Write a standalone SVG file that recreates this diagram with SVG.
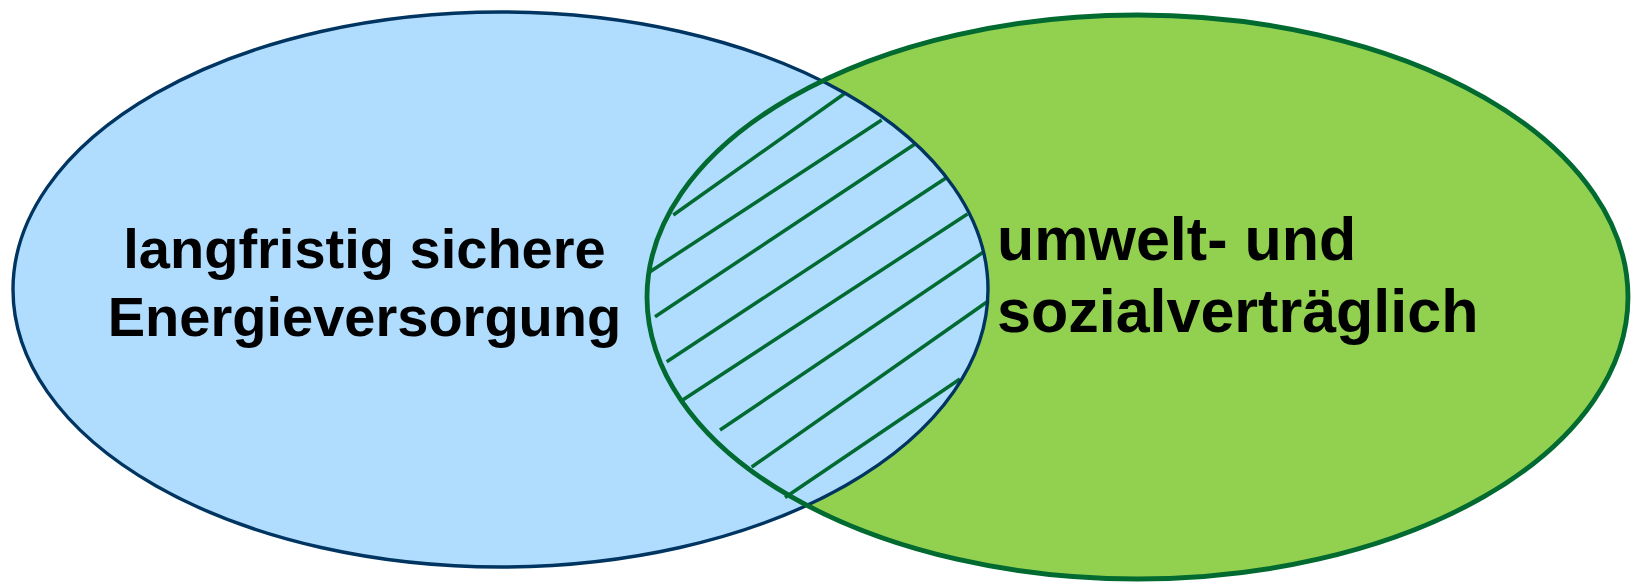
<svg xmlns="http://www.w3.org/2000/svg" width="1632" height="583" viewBox="0 0 1632 583">
<style>
.blue{fill:#b0dcfd;}
.navy{fill:none;stroke:#003562;stroke-width:3.4;}
.green{fill:#92d050;}
.gline{fill:none;stroke:#006a30;stroke-width:4.8;}
.hatch{stroke:#006a30;stroke-width:3.5;stroke-linecap:butt;}
.lbl{font-family:"Liberation Sans",Arial,sans-serif;font-weight:bold;fill:#000;}
</style>
<defs>
<clipPath id="inRight"><ellipse cx="1137.5" cy="297" rx="490.5" ry="282"/></clipPath>
</defs>
<g id="left-set">
<ellipse class="blue" cx="500.5" cy="289.5" rx="487.5" ry="277.5"/>
<ellipse class="navy" cx="500.5" cy="289.5" rx="487.5" ry="277.5"/>
<text class="lbl" font-size="56" x="364.5" y="268" text-anchor="middle">langfristig sichere</text>
<text class="lbl" font-size="56" x="364.5" y="336" text-anchor="middle">Energieversorgung</text>
</g>
<g id="right-set">
<ellipse class="green" cx="1137.5" cy="297" rx="490.5" ry="282"/>
<text class="lbl" font-size="61" x="997" y="260">umwelt- und</text>
<text class="lbl" font-size="61" x="997" y="332">sozialverträglich</text>
</g>
<g id="overlap">
<g clip-path="url(#inRight)">
<ellipse class="blue" cx="500.5" cy="289.5" rx="487.5" ry="277.5"/>
</g>
<g id="hatching">
<line class="hatch" x1="673.3" y1="215" x2="845" y2="93.3"/>
<line class="hatch" x1="650" y1="271.7" x2="881.7" y2="120"/>
<line class="hatch" x1="655" y1="316.7" x2="915" y2="144"/>
<line class="hatch" x1="666.7" y1="361.7" x2="947.5" y2="177"/>
<line class="hatch" x1="680" y1="401.7" x2="967.5" y2="214"/>
<line class="hatch" x1="720" y1="430" x2="983.5" y2="252"/>
<line class="hatch" x1="751.7" y1="467" x2="988.3" y2="301"/>
<line class="hatch" x1="785" y1="497.5" x2="960" y2="379"/>
</g>
<g clip-path="url(#inRight)">
<ellipse class="navy" cx="500.5" cy="289.5" rx="487.5" ry="277.5"/>
</g>
</g>
<g id="right-outline">
<ellipse class="gline" cx="1137.5" cy="297" rx="490.5" ry="282"/>
</g>
</svg>
